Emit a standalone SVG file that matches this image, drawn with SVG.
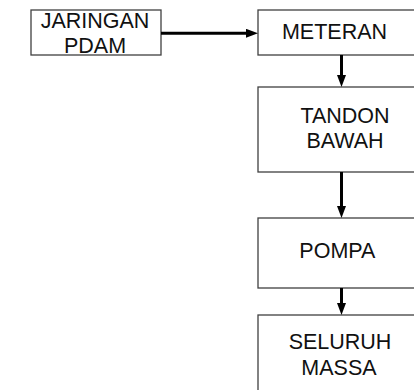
<svg xmlns="http://www.w3.org/2000/svg" width="414" height="390" viewBox="0 0 414 390">
<style>
.box{fill:#ffffff;stroke:#404040;stroke-width:1.3}
.lbl{font-family:"Liberation Sans",Arial,sans-serif;font-size:21.5px;fill:#111111;text-anchor:middle}
.conn{stroke:#000000;stroke-width:3;fill:none}
</style>
<defs>
<marker id="ah" markerUnits="userSpaceOnUse" markerWidth="12" markerHeight="9" viewBox="0 0 12 9" refX="1" refY="4.5" orient="auto">
<path d="M0,0 L12,4.5 L0,9 z" fill="#000000"/>
</marker>
</defs>
<rect width="414" height="390" fill="#ffffff"/>
<g id="jaringan">
<rect class="box" x="31" y="10" width="130" height="45"/>
<text class="lbl" x="95" y="27.7">JARINGAN</text>
<text class="lbl" x="95" y="53.3">PDAM</text>
</g>
<g id="meteran">
<rect class="box" x="258" y="10" width="180" height="45"/>
<text class="lbl" x="334.5" y="39.3">METERAN</text>
</g>
<g id="tandon">
<rect class="box" x="258" y="87" width="180" height="85"/>
<text class="lbl" x="345" y="123">TANDON</text>
<text class="lbl" x="345" y="148">BAWAH</text>
</g>
<g id="pompa">
<rect class="box" x="258" y="218" width="180" height="70"/>
<text class="lbl" x="337.4" y="257.7">POMPA</text>
</g>
<g id="seluruh">
<rect class="box" x="258" y="315" width="180" height="100"/>
<text class="lbl" x="340" y="349.3">SELURUH</text>
<text class="lbl" x="339" y="375">MASSA</text>
</g>
<g id="connectors">
<line class="conn" x1="161" y1="33.3" x2="247" y2="33.3" marker-end="url(#ah)"/>
<line class="conn" x1="341.5" y1="55" x2="341.5" y2="76" marker-end="url(#ah)"/>
<line class="conn" x1="341.5" y1="172" x2="341.5" y2="207" marker-end="url(#ah)"/>
<line class="conn" x1="341.5" y1="288" x2="341.5" y2="304" marker-end="url(#ah)"/>
</g>
</svg>
